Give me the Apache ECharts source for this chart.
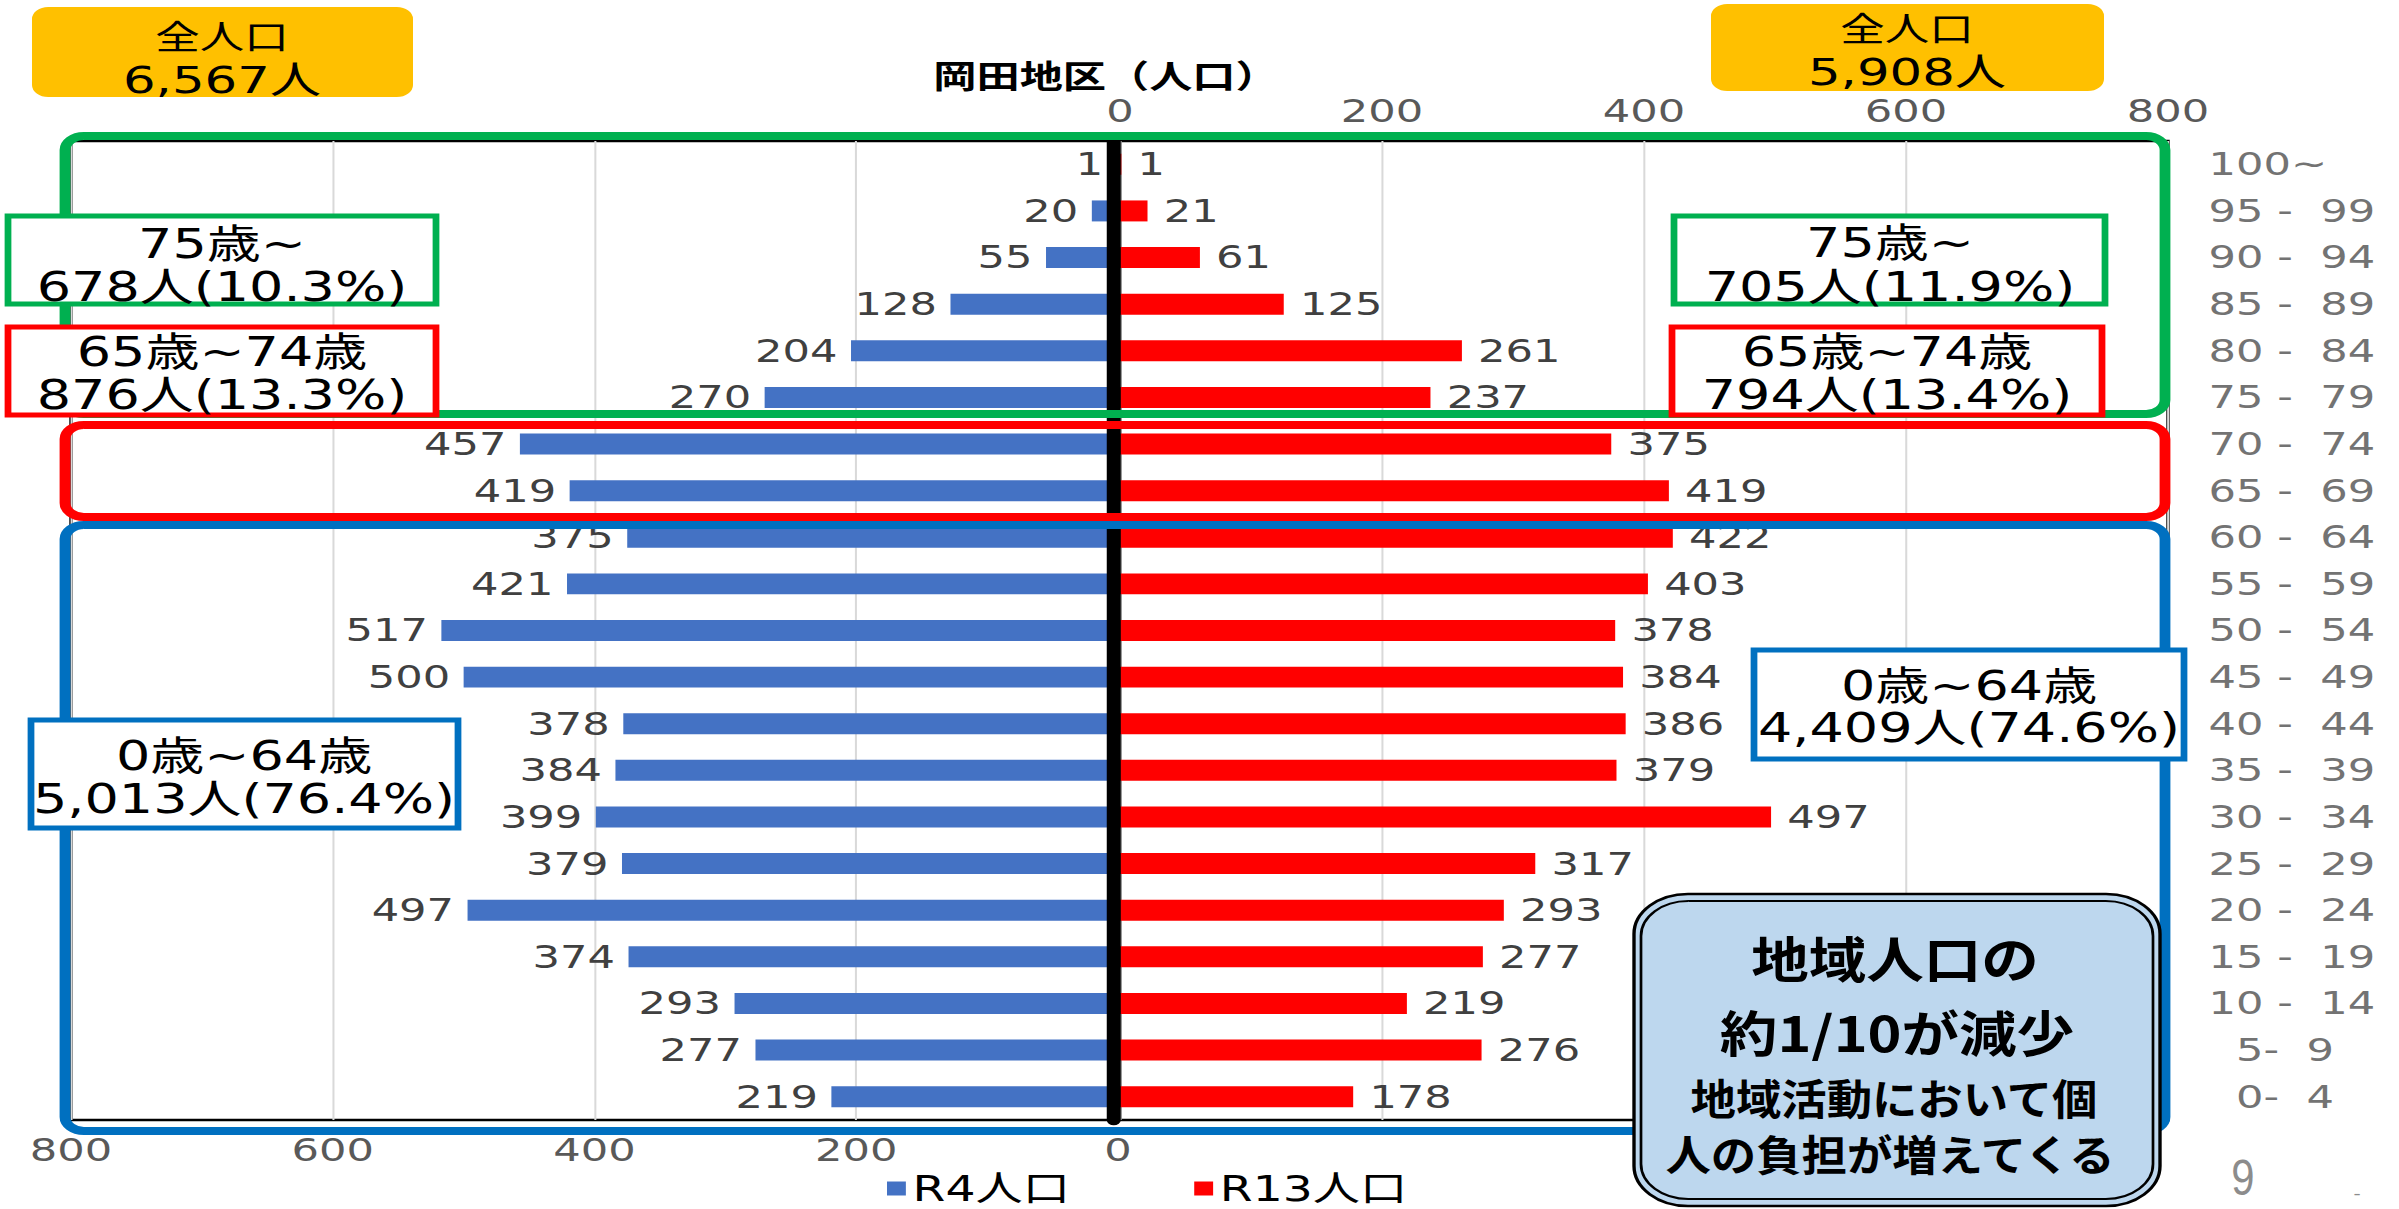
<!DOCTYPE html>
<html>
<head>
<meta charset="utf-8">
<script src="https://cdn.jsdelivr.net/npm/echarts@6/dist/echarts.min.js"></script>
<style>
html, body { margin: 0; padding: 0; background: #fff; overflow: hidden; width: 2399px; height: 1209px; }
#chart { width: 1777px; height: 1209px; transform: scaleX(1.35003); transform-origin: 0 0; }
</style>
</head>
<body>
<div id="chart"></div>
<script>
// ---------- data ----------
const categories = ['100~', '95 -  99', '90 -  94', '85 -  89', '80 -  84', '75 -  79', '70 -  74',
  '65 -  69', '60 -  64', '55 -  59', '50 -  54', '45 -  49', '40 -  44', '35 -  39', '30 -  34',
  '25 -  29', '20 -  24', '15 -  19', '10 -  14', '  5-  9', '  0-  4'];
const r4Values  = [1, 20, 55, 128, 204, 270, 457, 419, 375, 421, 517, 500, 378, 384, 399, 379, 497, 374, 293, 277, 219];
const r13Values = [1, 21, 61, 125, 261, 237, 375, 419, 422, 403, 378, 384, 386, 379, 497, 317, 293, 277, 219, 276, 178];
const seriesNames = ['R4人口', 'R13人口'];
const axisMin = 0, axisMax = 800, axisStep = 200;
const chartTitle = '岡田地区（人口）';
const totalLeft = ['全人口', '6,567人'];
const totalRight = ['全人口', '5,908人'];
const over75Left = ['75歳~', '678人(10.3%)'];
const over75Right = ['75歳~', '705人(11.9%)'];
const mid65Left = ['65歳~74歳', '876人(13.3%)'];
const mid65Right = ['65歳~74歳', '794人(13.4%)'];
const young0Left = ['0歳~64歳', '5,013人(76.4%)'];
const young0Right = ['0歳~64歳', '4,409人(74.6%)'];
const noteLines = ['地域人口の', '約1/10が減少', '地域活動において個', '人の負担が増えてくる'];
const pageNumber = '9';

// ---------- layout helpers (page is stretched horizontally by S) ----------
const S = 2399 / 1777;
const NUM = "'DejaVu Sans', 'Noto Sans CJK JP', sans-serif";
const CJK = "'Noto Sans CJK JP', sans-serif";
const nb = s => s.replace(/ /g, '\u00a0');

function box(x1, y1, x2, y2, r, stroke, lw, fill, z) {
  return { type: 'rect', z: z, silent: true,
    shape: { x: x1 / S, y: y1, width: (x2 - x1) / S, height: y2 - y1, r: r },
    style: { fill: fill, stroke: stroke, lineWidth: lw } };
}
function txt(x, y, text, size, opt) {
  opt = opt || {};
  return { type: 'text', z: opt.z || 90, silent: true, x: x / S, y: y,
    scaleX: opt.scaleX || 1, scaleY: 1,
    style: { text: text, fontSize: size, fontFamily: opt.font || NUM, fontWeight: opt.weight || 'normal',
      fill: opt.color || '#000', align: 'center', verticalAlign: 'middle' } };
}

const gLeft = 71, gMid0 = 1118, gMid1 = 1120, gRight = 2168, gTop = 141, gBottom = 1120;

const graphics = [
  // group outlines
  box(65, 136, 2165, 414, 14, '#00B050', 8, 'none', 60),
  box(65, 425, 2165, 517, 14, '#FF0000', 8, 'none', 60),
  box(65, 525, 2165, 1131, 14, '#0070C0', 8, 'none', 60),
  // totals
  box(32, 7, 413, 97, 12, null, 0, '#FFC000', 70),
  txt(222, 35, totalLeft[0], 33, { font: CJK }),
  txt(222, 80, totalLeft[1], 38),
  box(1711, 4, 2104, 91, 12, null, 0, '#FFC000', 70),
  txt(1907, 27, totalRight[0], 33, { font: CJK }),
  txt(1907, 72, totalRight[1], 38),
  // title
  txt(1106, 74, chartTitle, 32, { font: CJK, weight: 'bold' }),
  // left boxes
  box(8, 216, 436, 304, 0, '#00B050', 5, '#fff', 70),
  txt(222, 244, over75Left[0], 40), txt(222, 287, over75Left[1], 40),
  box(8, 327, 436, 415, 0, '#FF0000', 5, '#fff', 70),
  txt(222, 352, mid65Left[0], 40), txt(222, 395, mid65Left[1], 40),
  box(31, 720, 458, 828, 0, '#0070C0', 5, '#fff', 70),
  txt(244, 756, young0Left[0], 40), txt(244, 799, young0Left[1], 40),
  // right boxes
  box(1674, 216, 2105, 304, 0, '#00B050', 5, '#fff', 70),
  txt(1890, 243, over75Right[0], 40), txt(1890, 287, over75Right[1], 40),
  box(1672, 327, 2102, 415, 0, '#FF0000', 5, '#fff', 70),
  txt(1887, 352, mid65Right[0], 40), txt(1887, 395, mid65Right[1], 40),
  box(1754, 650, 2184, 759, 0, '#0070C0', 5, '#fff', 70),
  txt(1969, 686, young0Right[0], 40), txt(1969, 728, young0Right[1], 40),
  // note bubble
  box(1634, 894, 2160, 1206, 40, '#000', 2.5, '#BDD7EE', 80),
  box(1641, 901, 2153, 1199, 35, '#000', 2, 'none', 81),
  txt(1895, 956, noteLines[0], 49, { font: CJK, weight: 'bold', scaleX: 0.87, z: 95 }),
  txt(1897, 1030, noteLines[1], 49, { font: CJK, weight: 'bold', scaleX: 0.87, z: 95 }),
  txt(1894, 1097, noteLines[2], 42, { font: CJK, weight: 'bold', scaleX: 0.8, z: 95 }),
  txt(1890, 1153, noteLines[3], 42, { font: CJK, weight: 'bold', scaleX: 0.8, z: 95 }),
  // page number
  txt(2243, 1178, pageNumber, 50, { font: "'Liberation Sans', sans-serif", color: '#8c8c8c', scaleX: 0.62 }),
  txt(2357, 1194, '-', 16, { font: "'Liberation Sans', sans-serif", color: '#8c8c8c' })
];

const valueAxisCommon = {
  type: 'value', min: axisMin, max: axisMax, interval: axisStep,
  axisLine: { show: false }, axisTick: { show: false },
  splitLine: { show: true, lineStyle: { color: '#d9d9d9', width: 1.5 } },
  axisLabel: { color: '#595959', fontSize: 32, fontFamily: NUM, margin: 14 }
};

const option = {
  backgroundColor: '#fff',
  animation: false,
  grid: [
    { left: gLeft / S, top: gTop, width: (gMid0 - gLeft) / S, height: gBottom - gTop,
      show: true, borderColor: '#000', borderWidth: 2.5, backgroundColor: 'transparent' },
    { left: gMid1 / S, top: gTop, width: (gRight - gMid1) / S, height: gBottom - gTop,
      show: true, borderColor: '#000', borderWidth: 2.5, backgroundColor: 'transparent' }
  ],
  xAxis: [
    Object.assign({}, valueAxisCommon, { gridIndex: 0, inverse: true, position: 'bottom' }),
    Object.assign({}, valueAxisCommon, { gridIndex: 1, inverse: false, position: 'top' })
  ],
  yAxis: [
    { gridIndex: 0, type: 'category', data: categories, inverse: true, position: 'right', offset: -3, z: 10,
      axisLine: { show: true, lineStyle: { color: '#000', width: 10.4 } },
      axisTick: { show: false }, axisLabel: { show: false }, splitLine: { show: false } },
    { gridIndex: 1, type: 'category', data: categories, inverse: true, position: 'right',
      axisLine: { show: false }, axisTick: { show: false }, splitLine: { show: false },
      axisLabel: { show: true, align: 'left', margin: 30, color: '#737373', fontSize: 32, fontFamily: NUM,
        formatter: v => nb(v) } }
  ],
  legend: {
    data: seriesNames, left: 652, top: 1166, icon: 'rect', itemWidth: 14, itemHeight: 14, itemGap: 92,
    textStyle: { color: '#000', fontSize: 35, fontFamily: NUM }
  },
  series: [
    { name: seriesNames[0], type: 'bar', xAxisIndex: 0, yAxisIndex: 0, data: r4Values,
      barCategoryGap: '55%', itemStyle: { color: '#4472C4' },
      label: { show: true, position: 'left', distance: 10, color: '#404040', fontSize: 32, fontFamily: NUM } },
    { name: seriesNames[1], type: 'bar', xAxisIndex: 1, yAxisIndex: 1, data: r13Values,
      barCategoryGap: '55%', itemStyle: { color: '#FF0000' },
      label: { show: true, position: 'right', distance: 12, color: '#404040', fontSize: 32, fontFamily: NUM } }
  ],
  graphic: { elements: graphics }
};

const chart = echarts.init(document.getElementById('chart'), null, { renderer: 'svg', width: 1777, height: 1209 });
chart.setOption(option);
</script>
</body>
</html>
